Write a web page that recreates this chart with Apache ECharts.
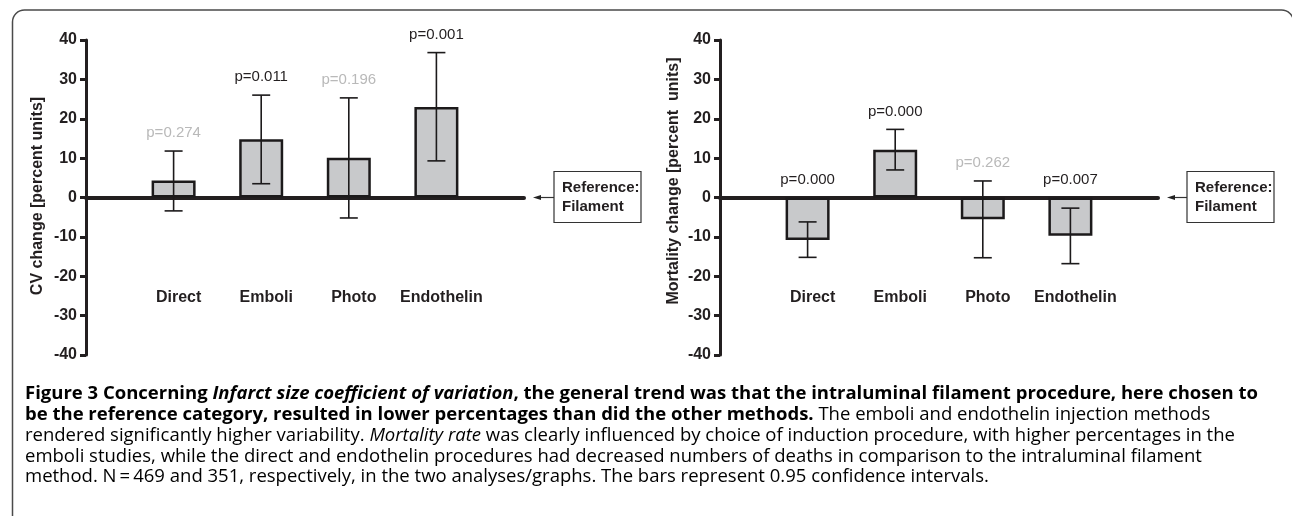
<!DOCTYPE html>
<html>
<head>
<meta charset="utf-8">
<script src="https://cdn.jsdelivr.net/npm/echarts@6/dist/echarts.min.js"></script>
<style>
html,body{margin:0;padding:0;background:#fff;}
#c{width:1292px;height:516px;}
</style>
</head>
<body>
<div id="c"></div>
<script>
// ---------- data ----------
const categories = ['Direct', 'Emboli', 'Photo', 'Endothelin'];
const yMin = -40, yMax = 40, yStep = 10;

const cvMean = [4.3, 14.8, 10.1, 23.0];
const cvLow  = [-3.4, 3.5, -5.2, 9.3];
const cvHigh = [11.8, 26.0, 25.3, 36.8];
const cvP    = ['p=0.274', 'p=0.011', 'p=0.196', 'p=0.001'];
const cvSig  = [false, true, false, true];

const mortMean = [-10.8, 12.1, -5.5, -9.7];
const mortLow  = [-15.2, 7.0, -15.3, -16.8];
const mortHigh = [-6.2, 17.3, 4.2, -2.7];
const mortP    = ['p=0.000', 'p=0.000', 'p=0.262', 'p=0.007'];
const mortSig  = [true, true, false, true];

const yTitleLeft = 'CV change [percent units]';
const yTitleRight = 'Mortality change [percent  units]';
const refText = 'Reference:\nFilament';

// ---------- styles ----------
const INK = '#231f20';
const FONT = '"Liberation Sans", Arial, Helvetica, sans-serif';
const CAP_FONT = '"Open Sans", "Noto Sans", sans-serif';
const CAP_SIZE = 18.5;

const xCats = [''].concat(categories, ['']);
const pad = arr => ['-'].concat(arr, ['-']);

function makeAxes(gi) {
  return {
    x: {
      type: 'category', gridIndex: gi, data: xCats, boundaryGap: false,
      axisLine: { onZero: true, lineStyle: { color: INK, width: 4 } },
      axisTick: { show: false },
      axisLabel: { show: false },
      splitLine: { show: false }
    },
    y: {
      type: 'value', gridIndex: gi, min: yMin, max: yMax, interval: yStep,
      axisLine: { show: true, onZero: false, lineStyle: { color: INK, width: 3 } },
      axisTick: { show: true, inside: false, length: 6, lineStyle: { color: INK, width: 3 } },
      axisLabel: { margin: 9, color: INK, fontSize: 16, fontWeight: 'bold', fontFamily: FONT },
      splitLine: { show: false }
    }
  };
}

function barSeries(gi, mean) {
  return {
    type: 'bar', xAxisIndex: gi, yAxisIndex: gi, data: pad(mean), barWidth: 44, z: 2,
    itemStyle: { color: '#c8c9cb', borderColor: '#1c1a1b', borderWidth: 2.5 },
    silent: true
  };
}

function errSeries(gi, low, high) {
  const data = categories.map((c, i) => [i + 1, low[i], high[i]]);
  return {
    type: 'custom', xAxisIndex: gi, yAxisIndex: gi, z: 5, silent: true,
    encode: { x: 0, y: [1, 2] },
    data: data,
    renderItem: function (params, api) {
      const x = api.value(0);
      const pl = api.coord([x, api.value(1)]);
      const ph = api.coord([x, api.value(2)]);
      const w = 9;
      const st = { stroke: '#1c1a1b', lineWidth: 1.6 };
      return {
        type: 'group',
        children: [
          { type: 'line', shape: { x1: pl[0], y1: pl[1], x2: ph[0], y2: ph[1] }, style: st },
          { type: 'line', shape: { x1: ph[0] - w, y1: ph[1], x2: ph[0] + w, y2: ph[1] }, style: st },
          { type: 'line', shape: { x1: pl[0] - w, y1: pl[1], x2: pl[0] + w, y2: pl[1] }, style: st }
        ]
      };
    }
  };
}

function pSeries(gi, high, labels, sig) {
  const data = categories.map((c, i) => [i + 1, Math.max(high[i], 0), i]);
  return {
    type: 'custom', xAxisIndex: gi, yAxisIndex: gi, z: 6, silent: true,
    encode: { x: 0, y: 1 },
    data: data,
    renderItem: function (params, api) {
      const i = api.value(2);
      const p = api.coord([api.value(0), api.value(1)]);
      return {
        type: 'text',
        style: {
          x: p[0], y: p[1] - 18, text: labels[i],
          fill: sig[i] ? INK : '#b9b9b9',
          font: '15px ' + FONT,
          textAlign: 'center', textVerticalAlign: 'middle'
        }
      };
    }
  };
}

// category names, placed 100px below the zero line of each panel
function catSeries(gi) {
  const data = categories.map((c, i) => [i + 1, 0, i]);
  return {
    type: 'custom', xAxisIndex: gi, yAxisIndex: gi, z: 6, silent: true,
    encode: { x: 0, y: 1 },
    data: data,
    renderItem: function (params, api) {
      const p = api.coord([api.value(0), api.value(1)]);
      return {
        type: 'text',
        style: {
          x: p[0] + 5, y: p[1] + 100, text: categories[api.value(2)],
          fill: INK, font: 'bold 16px ' + FONT,
          textAlign: 'center', textVerticalAlign: 'middle'
        }
      };
    }
  };
}

const a0 = makeAxes(0), a1 = makeAxes(1);

// caption lines (rich text)
const capRich = {
  b: { fontFamily: CAP_FONT, fontWeight: 'bold', fontSize: CAP_SIZE, color: INK },
  bi: { fontFamily: CAP_FONT, fontWeight: 'bold', fontStyle: 'italic', fontSize: CAP_SIZE, color: INK },
  r: { fontFamily: CAP_FONT, fontSize: CAP_SIZE, color: '#3d3d3d' },
  i: { fontFamily: CAP_FONT, fontStyle: 'italic', fontSize: CAP_SIZE, color: '#3d3d3d' }
};
const captionLines = [
  '{b|Figure 3 Concerning }{bi|Infarct size coefficient of variation}{b|, the general trend was that the intraluminal filament procedure, here chosen to}',
  '{b|be the reference category, resulted in lower percentages than did the other methods.}{r| The emboli and endothelin injection methods}',
  '{r|rendered significantly higher variability. }{i|Mortality rate}{r| was clearly influenced by choice of induction procedure, with higher percentages in the}',
  '{r|emboli studies, while the direct and endothelin procedures had decreased numbers of deaths in comparison to the intraluminal filament}',
  '{r|method. N\u2009=\u2009469 and 351, respectively, in the two analyses/graphs. The bars represent 0.95 confidence intervals.}'
];

const graphics = [
  { type: 'rect', left: 10, top: 7.5, shape: { x: 0, y: 0, width: 1281, height: 520, r: 12 },
    style: { fill: 'none', stroke: '#4a4a4a', lineWidth: 1.5 }, z: -1, silent: true },
  // y-axis titles
  { type: 'text', x: 38, y: 196, rotation: Math.PI / 2, z: 10,
    style: { text: yTitleLeft, font: 'bold 16px ' + FONT, fill: INK, textAlign: 'center', textVerticalAlign: 'middle' } },
  { type: 'text', x: 674, y: 181, rotation: Math.PI / 2, z: 10,
    style: { text: yTitleRight, font: 'bold 16px ' + FONT, fill: INK, textAlign: 'center', textVerticalAlign: 'middle' } }
];

// reference boxes + arrows
[[533, 554], [1167, 1187]].forEach(function (pos) {
  const tip = pos[0], bx = pos[1];
  graphics.push(
    { type: 'line', shape: { x1: tip + 6, y1: 197.5, x2: bx, y2: 197.5 }, style: { stroke: '#333', lineWidth: 1.2 }, silent: true },
    { type: 'polygon', shape: { points: [[tip, 197.5], [tip + 8, 195], [tip + 8, 200]] }, style: { fill: '#222' }, silent: true },
    { type: 'rect', shape: { x: bx, y: 171.5, width: 87, height: 51 }, style: { fill: '#fff', stroke: '#333', lineWidth: 1.2 }, silent: true },
    { type: 'text', x: bx + 8, y: 197.5, silent: true,
      style: { text: refText, font: 'bold 15px ' + FONT, fill: INK, textAlign: 'left', textVerticalAlign: 'middle', lineHeight: 19 } }
  );
});

captionLines.forEach(function (t, k) {
  graphics.push({ type: 'text', x: 25, y: 394 + k * 20.8, silent: true,
    style: { text: t, rich: capRich, textAlign: 'left', textVerticalAlign: 'middle', font: CAP_SIZE + 'px ' + CAP_FONT } });
});

const chart = echarts.init(document.getElementById('c'), null, { renderer: 'canvas' });
chart.setOption({
  animation: false,
  backgroundColor: '#fff',
  grid: [
    { left: 86, top: 40, width: 438, height: 315 },
    { left: 720, top: 40, width: 438, height: 315 }
  ],
  xAxis: [a0.x, a1.x],
  yAxis: [a0.y, a1.y],
  series: [
    barSeries(0, cvMean), errSeries(0, cvLow, cvHigh), pSeries(0, cvHigh, cvP, cvSig), catSeries(0),
    barSeries(1, mortMean), errSeries(1, mortLow, mortHigh), pSeries(1, mortHigh, mortP, mortSig), catSeries(1)
  ],
  graphic: graphics
});
</script>
</body>
</html>
